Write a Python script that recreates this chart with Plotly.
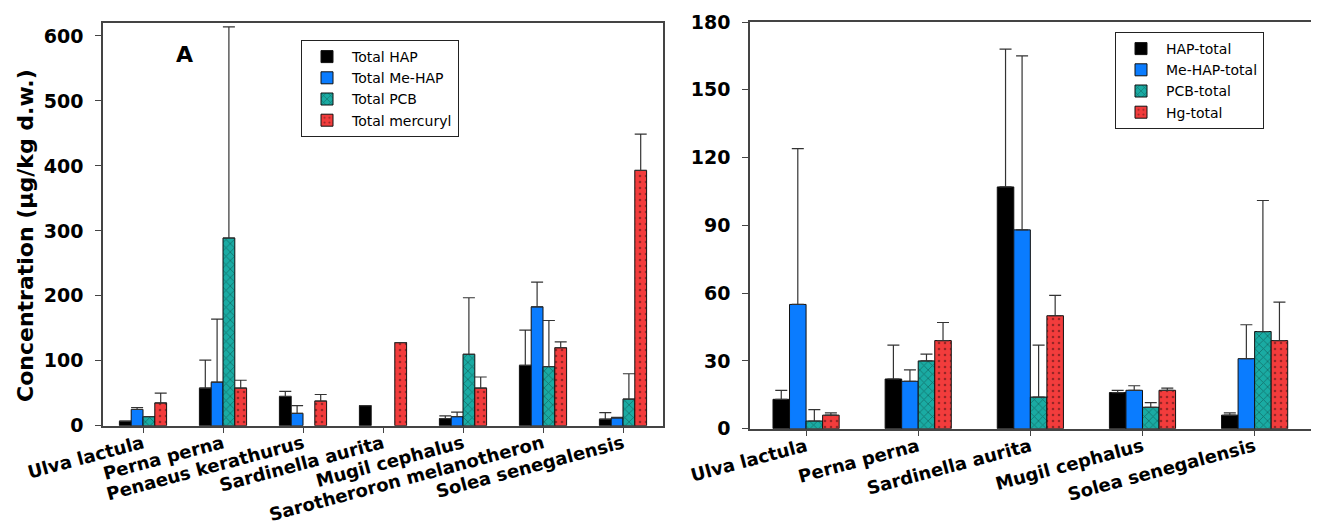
import plotly.graph_objects as go

# left panel (A)
species_a = ['Ulva lactula', 'Perna perna', 'Penaeus kerathurus', 'Sardinella aurita',
             'Mugil cephalus', 'Sarotheroron melanotheron', 'Solea senegalensis']
hap_a = [7, 58, 45, 31, 11, 93, 10]
hap_a_err = [None, 43, 8, None, 4, 54, 10]
mehap_a = [25, 67, 19, None, 14, 183, 12]
mehap_a_err = [3, 97, 12, None, 7, 38, 1]
pcb_a = [14, 289, None, None, 110, 91, 41]
pcb_a_err = [None, 325, None, None, 87, 71, 39]
hg_a = [35, 58, 38, 128, 58, 120, 393]
hg_a_err = [15, 12, 10, None, 17, 9, 56]

# right panel
species_b = ['Ulva lactula', 'Perna perna', 'Sardinella aurita', 'Mugil cephalus', 'Solea senegalensis']
hap_b = [13, 22, 107, 16, 6]
hap_b_err = [4, 15, 61, 1, 1]
mehap_b = [55, 21, 88, 17, 31]
mehap_b_err = [69, 5, 77, 2, 15]
pcb_b = [3.4, 30, 14, 9.5, 43]
pcb_b_err = [5, 3, 23, 2, 58]
hg_b = [6, 39, 50, 17, 39]
hg_b_err = [1, 8, 9, 1, 17]

names_a = ['Total HAP', 'Total Me-HAP', 'Total PCB', 'Total mercuryl']
names_b = ['HAP-total', 'Me-HAP-total', 'PCB-total', 'Hg-total']

colors = ['#000000', '#0a7cff', '#1aaba3', '#f23c3c']
patterns = [dict(shape=''), dict(shape=''),
            dict(shape='x', fgcolor='#0b3b38', size=6, solidity=0.25),
            dict(shape='.', fgcolor='#3a1010', size=6, solidity=0.15)]

BOLD = 'DejaVu Sans'
W, H, OFF = 1319, 529, 8   # page body has an 8px margin


def px_x(p):
    return (p - OFF) / W


def px_y(p):
    return 1 - (p - OFF) / H


fig = go.Figure()

series_a = [(hap_a, hap_a_err), (mehap_a, mehap_a_err), (pcb_a, pcb_a_err), (hg_a, hg_a_err)]
for i, (vals, errs) in enumerate(series_a):
    fig.add_trace(go.Bar(
        x=species_a, y=vals, name=names_a[i], xaxis='x', yaxis='y', legend='legend',
        marker=dict(color=colors[i], line=dict(color='#111', width=1), pattern=patterns[i]),
        error_y=dict(type='data', array=errs, symmetric=False, arrayminus=[0] * len(errs),
                     color='#333', thickness=1.2, width=6),
    ))

series_b = [(hap_b, hap_b_err), (mehap_b, mehap_b_err), (pcb_b, pcb_b_err), (hg_b, hg_b_err)]
for i, (vals, errs) in enumerate(series_b):
    fig.add_trace(go.Bar(
        x=species_b, y=vals, name=names_b[i], xaxis='x2', yaxis='y2', legend='legend2',
        marker=dict(color=colors[i], line=dict(color='#111', width=1), pattern=patterns[i]),
        error_y=dict(type='data', array=errs, symmetric=False, arrayminus=[0] * len(errs),
                     color='#333', thickness=1.2, width=6),
    ))

axis_common = dict(showline=True, mirror=True, linecolor='#444', linewidth=1.5, automargin=False,
                   ticks='outside', ticklen=6, tickcolor='#444', showgrid=False, zeroline=False)
xtick_font = dict(family=BOLD, size=18, color='black', weight='bold')
ytick_font = dict(family=BOLD, size=19, color='black', weight='bold')
leg_font = dict(family='DejaVu Sans', size=14, color='black')

fig.update_layout(
    width=W, height=H,
    margin=dict(l=0, r=0, t=0, b=0),
    paper_bgcolor='white', plot_bgcolor='white',
    barmode='group', bargap=0.41, bargroupgap=0,
    xaxis=dict(domain=[px_x(103), px_x(663)], anchor='y', type='category', range=[-0.5, 6.5],
               tickangle=-15, tickfont=xtick_font, ticklabelstandoff=-7, **axis_common),
    yaxis=dict(domain=[px_y(425.7), px_y(23)], anchor='x', range=[0, 620],
               tickvals=[0, 100, 200, 300, 400, 500, 600],
               tickfont=ytick_font, ticklabelstandoff=8, **axis_common),
    xaxis2=dict(domain=[px_x(750), px_x(1310.7)], anchor='y2', type='category', range=[-0.5, 4.5],
                tickangle=-15, tickfont=xtick_font, ticklabelstandoff=-7, **axis_common),
    yaxis2=dict(domain=[px_y(428.7), px_y(22)], anchor='x2', range=[0, 180], dtick=30,
                tickfont=ytick_font, ticklabelstandoff=8, **axis_common),
    legend=dict(x=px_x(301), y=px_y(40), xanchor='left', yanchor='top', bordercolor='#222',
                borderwidth=1, font=leg_font, itemwidth=40, tracegroupgap=0),
    legend2=dict(x=px_x(1115), y=px_y(32), xanchor='left', yanchor='top', bordercolor='#222',
                 borderwidth=1, font=leg_font, itemwidth=40, tracegroupgap=0),
    annotations=[
        dict(text='Concentration (µg/kg d.w.)', textangle=-90, x=px_x(25), y=px_y(236),
             xanchor='center', yanchor='middle', xref='paper', yref='paper', showarrow=False,
             font=dict(family=BOLD, size=22, color='black', weight='bold')),
        dict(text='A', x=px_x(184), y=px_y(55), xanchor='center', yanchor='middle',
             xref='paper', yref='paper', showarrow=False,
             font=dict(family=BOLD, size=22, color='black', weight='bold')),
    ],
)

fig.write_html('out.html')
